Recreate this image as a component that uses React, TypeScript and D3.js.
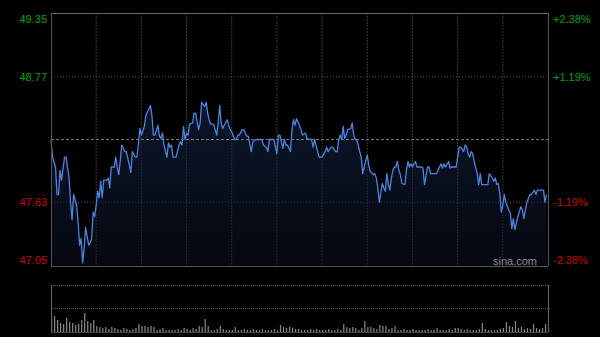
import React from "react";
import * as d3 from "d3";

// Intraday minutes (0 = open, 330 = close) and prices
const minutes = [
  0, 1, 3, 4, 5, 6, 7, 9, 10, 12, 13, 14, 15, 17, 18, 19, 20, 21, 22, 23, 25, 26, 27, 28, 29, 30, 31, 32, 33, 34, 35, 37, 38, 39, 40, 42, 43, 44, 45, 46, 47, 49, 50, 52, 53, 54, 56, 57, 58, 59, 60, 62, 63, 64, 66, 67, 68, 69, 71, 72, 73, 74, 75, 77, 78, 79, 80, 81, 83,
  85, 86, 87, 88, 89, 90, 91, 92, 94, 95, 96, 98, 99, 100, 102, 103, 104, 105, 106, 108, 109, 110, 111, 112, 113, 114, 115, 117, 118, 119, 120, 122, 123, 124, 125, 127, 128, 129, 130, 131, 133, 134, 136, 138, 140, 141, 143, 144, 145, 147, 148, 150, 151, 152, 154, 155, 156, 157, 159, 160, 161, 162, 163, 165,
  166, 167, 169, 170, 172, 173, 174, 175, 176, 178, 179, 180, 182, 183, 184, 186, 187, 189, 190, 191, 192, 193, 194, 195, 196, 197, 199, 200, 201, 202, 203, 204, 205, 206, 207, 208, 209, 210, 211, 212, 214, 215, 216, 217, 218, 220, 221, 222, 223, 224, 225, 226, 227, 228, 229, 230, 231, 232, 233, 235, 236, 237, 238, 239, 240, 241, 242, 243, 245, 246, 247, 248,
  250, 251, 252, 254, 256, 258, 259, 260, 261, 262, 264, 265, 266, 268, 269, 270, 271, 272, 274, 275, 276, 277, 278, 279, 280, 281, 283, 284, 285, 286, 288, 289, 290, 291, 293, 294, 295, 296, 297, 298, 299, 300, 301, 302, 304, 305, 306, 307, 308, 309, 310, 312, 313, 314, 315, 316, 318, 319, 321, 322, 323, 325, 327, 328, 329,
];
const prices = [
  48.2, 48.04, 47.95, 47.7, 47.7, 47.92, 47.83, 48.04, 48.04, 47.85, 47.63, 47.47, 47.7, 47.6, 47.45, 47.24, 47.3, 47.08, 47.21, 47.4, 47.24, 47.26, 47.3, 47.54, 47.5, 47.6, 47.73, 47.67, 47.82, 47.67, 47.83, 47.83, 47.85, 47.76, 47.95, 47.95, 48.04, 47.95, 47.88, 48.01, 48.15, 48.09, 48.09, 47.97, 47.9, 48.09, 48.04, 48.04, 48.15, 48.3, 48.24, 48.32, 48.42, 48.45, 48.51, 48.42, 48.24, 48.24, 48.33, 48.23, 48.21, 48.26, 48.15, 48.04, 48.17, 48.13, 48.15, 48.04, 48.04,
  48.15, 48.18, 48.15, 48.32, 48.2, 48.26, 48.24, 48.34, 48.35, 48.44, 48.44, 48.29, 48.35, 48.54, 48.5, 48.54, 48.44, 48.38, 48.34, 48.34, 48.29, 48.24, 48.35, 48.51, 48.35, 48.3, 48.33, 48.38, 48.33, 48.29, 48.27, 48.2, 48.2, 48.24, 48.24, 48.29, 48.29, 48.26, 48.23, 48.23, 48.09, 48.18, 48.2, 48.2, 48.2, 48.15, 48.13, 48.09, 48.2, 48.2, 48.2, 48.07, 48.24, 48.24, 48.12, 48.2, 48.15, 48.15, 48.09, 48.29, 48.38, 48.33, 48.39, 48.33,
  48.29, 48.24, 48.26, 48.21, 48.2, 48.2, 48.13, 48.2, 48.15, 48.04, 48.04, 48.04, 48.09, 48.13, 48.09, 48.13, 48.13, 48.09, 48.09, 48.2, 48.24, 48.2, 48.32, 48.21, 48.24, 48.29, 48.3, 48.35, 48.24, 48.2, 48.2, 48.15, 48.09, 48.04, 47.89, 47.95, 48.01, 48.06, 47.96, 47.91, 47.88, 47.89, 47.85, 47.76, 47.63, 47.8, 47.76, 47.73, 47.89, 47.79, 47.74, 47.85, 47.92, 47.95, 47.95, 48.0, 47.92, 47.88, 47.8, 47.79, 47.92, 48.0, 47.95, 47.98, 47.95, 47.98, 48.0, 47.95, 47.95, 47.95, 47.94, 47.79,
  47.95, 47.95, 47.89, 47.89, 47.89, 47.95, 47.98, 47.94, 47.98, 47.95, 48.0, 47.94, 47.95, 47.95, 47.95, 48.04, 48.13, 48.13, 48.09, 48.15, 48.13, 48.07, 48.04, 48.09, 48.07, 48.0, 47.89, 47.79, 47.89, 47.79, 47.79, 47.79, 47.79, 47.89, 47.85, 47.82, 47.85, 47.79, 47.8, 47.71, 47.54, 47.6, 47.7, 47.63, 47.56, 47.53, 47.39, 47.48, 47.38, 47.44, 47.5, 47.59, 47.56, 47.48, 47.56, 47.63, 47.7, 47.7, 47.74, 47.7, 47.74, 47.74, 47.74, 47.63, 47.7,
];

// Volume, one bar per 2 minutes
const volumes = [
  18, 16, 12, 9, 8, 14, 10, 9, 7, 8, 12, 19, 11, 9, 12, 6, 5, 4, 5, 3, 5, 4, 3, 2, 4, 3, 2, 3, 4, 8, 6, 6, 5, 6, 5, 2, 3, 4, 2, 2, 2, 2, 3, 2, 4, 3, 2, 4, 3, 6, 5, 13, 6, 2, 2, 3, 6, 3, 2, 2, 2, 5, 2, 2, 3, 2, 2, 3, 2, 2, 3, 2, 2, 2, 3, 2, 7, 5, 4, 5, 4, 3, 3,
  2, 2, 2, 3, 2, 3, 2, 2, 2, 3, 2, 2, 3, 2, 8, 5, 4, 5, 4, 2, 4, 11, 5, 5, 4, 3, 7, 6, 6, 3, 4, 6, 2, 2, 3, 2, 2, 3, 2, 2, 2, 2, 3, 2, 2, 4, 2, 2, 2, 3, 2, 4, 4, 3, 2, 3, 2, 2, 2, 3, 9, 3, 2, 2, 2, 2, 3, 4, 10, 6, 5, 11, 4, 5, 3, 4, 3, 8, 4, 3, 4, 8, 4,
];

const priceTicks = [49.35, 48.77, 47.63, 47.05];
const priceTickLabels = ["49.35", "48.77", "47.63", "47.05"];
const pctTickLabels = ["+2.38%", "+1.19%", "-1.19%", "-2.38%"];
const prevClose = 48.2;
const gridMinutes = [30, 60, 90, 120, 150, 180, 210, 240, 270, 300];

export default function App() {
  const W = 600, H = 337;
  const L = 51, R = 548, T = 13, B = 266;
  const VT = 285, VB = 332;

  const x = d3.scaleLinear().domain([0, 330]).range([L, R]);
  const y = d3.scaleLinear().domain([47.05, 49.35]).range([B, T]);
  const vy = d3.scaleLinear().domain([0, 47]).range([VB, VT]);

  const pts = minutes.map((m, i) => [m, prices[i]] as [number, number]);
  const line = d3.line<[number, number]>().x(d => x(d[0])).y(d => y(d[1]))(pts) || "";
  const area = d3.area<[number, number]>().x(d => x(d[0])).y0(B).y1(d => y(d[1]))(pts) || "";

  const labelY = (i: number) => {
    const yy = y(priceTicks[i]);
    if (i === 0) return yy + 6;
    if (i === priceTicks.length - 1) return yy - 6;
    return yy;
  };
  const colorFor = (p: number) => (p > prevClose ? "#00a000" : "#d00000");

  return (
    <svg width={W} height={H} style={{ position: "absolute", left: 0, top: 0, background: "#000" }}
      fontFamily="'Liberation Sans', Arial, sans-serif">
      <defs>
        <linearGradient id="fillG" gradientUnits="userSpaceOnUse" x1="0" y1={T} x2="0" y2={B}>
          <stop offset="0%" stopColor="#1a2c55" stopOpacity={0.75} />
          <stop offset="100%" stopColor="#0a1020" stopOpacity={0.5} />
        </linearGradient>
      </defs>
      <rect x={0} y={0} width={W} height={H} fill="#000" />

      {/* vertical grid */}
      {gridMinutes.map(m => (
        <line key={"vg" + m} x1={x(m)} x2={x(m)} y1={T} y2={B} stroke="#3a3a3a" strokeDasharray="2,1" />
      ))}
      {/* horizontal grid */}
      {[48.77, 47.63].map(p => (
        <line key={"hg" + p} x1={L} x2={R} y1={y(p)} y2={y(p)} stroke="#555" strokeDasharray="1,2" />
      ))}

      <path d={area} fill="url(#fillG)" />
      <line x1={L} x2={R} y1={y(prevClose)} y2={y(prevClose)} stroke="#777" strokeDasharray="3,2" />
      <path d={line} fill="none" stroke="#4d84de" strokeWidth={1.3} strokeLinejoin="round" />

      {/* frame */}
      <line x1={L} x2={R} y1={T + 0.5} y2={T + 0.5} stroke="#666" />
      <line x1={L} x2={R} y1={B + 0.5} y2={B + 0.5} stroke="#555" />
      <line x1={L + 0.5} x2={L + 0.5} y1={T} y2={B} stroke="#555" />
      <line x1={R + 0.5} x2={R + 0.5} y1={T} y2={B} stroke="#555" />

      {priceTicks.map((p, i) => (
        <text key={"l" + i} x={47} y={labelY(i)} textAnchor="end" dominantBaseline="central" fontSize={11} fill={colorFor(p)}>
          {priceTickLabels[i]}
        </text>
      ))}
      {priceTicks.map((p, i) => (
        <text key={"r" + i} x={553} y={labelY(i)} textAnchor="start" dominantBaseline="central" fontSize={11} fill={colorFor(p)}>
          {pctTickLabels[i]}
        </text>
      ))}
      <text x={537} y={261} textAnchor="end" dominantBaseline="central" fontSize={11} fill="#8a8a8a">sina.com</text>

      {/* volume panel */}
      <line x1={L} x2={R} y1={VT + 0.5} y2={VT + 0.5} stroke="#666" strokeDasharray="1,1" />
      <line x1={L} x2={R} y1={(VT + VB) / 2} y2={(VT + VB) / 2} stroke="#555" strokeDasharray="1,1" />
      {volumes.map((v, i) => (
        <rect key={"v" + i} x={x(i * 2)} y={vy(v)} width={1.2} height={VB - vy(v)} fill="#8a8a8a" />
      ))}
      <line x1={L + 0.5} x2={L + 0.5} y1={VT} y2={VB} stroke="#666" />
      <line x1={R + 0.5} x2={R + 0.5} y1={VT} y2={VB} stroke="#666" />
      <line x1={L} x2={R} y1={VB + 0.5} y2={VB + 0.5} stroke="#444" />
    </svg>
  );
}
